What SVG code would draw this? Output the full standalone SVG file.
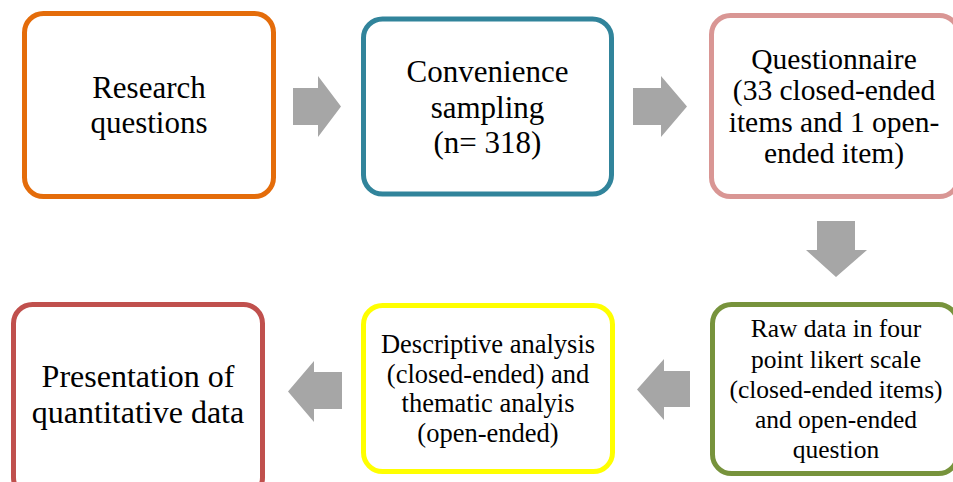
<svg xmlns="http://www.w3.org/2000/svg" width="953" height="482" viewBox="0 0 953 482">
<style>
.box{fill:#fff;stroke-width:5}
.t{font-family:"Liberation Serif","Times New Roman",serif;fill:#000;text-anchor:middle}
.arr{fill:#A6A6A6}
</style>
<rect width="953" height="482" fill="#fff"/>
<g id="connectors">
<polygon class="arr" points="293,88 318,88 318,76 341,106.5 318,137 318,125 293,125"/>
<polygon class="arr" points="633,88 661,88 661,76 687,106.5 661,137 661,125 633,125"/>
<polygon class="arr" points="817,221 855,221 855,250 867,250 836,277 806,250 817,250"/>
<polygon class="arr" points="690,371 690,407 664,407 664,420 637,389.5 664,359 664,371"/>
<polygon class="arr" points="342,372 342,409 314,409 314,422 288,391.5 314,361 314,372"/>
</g>
<g id="n1">
<rect class="box" x="24.5" y="13.5" width="249" height="183" rx="19" stroke="#E46C0A"/>
<text class="t" font-size="31" x="149"><tspan x="149" y="98">Research</tspan><tspan x="149" y="133">questions</tspan></text>
</g>
<g id="n2">
<rect class="box" x="363.5" y="19" width="248" height="175" rx="19" stroke="#31849B"/>
<text class="t" font-size="31"><tspan x="487.5" y="82">Convenience</tspan><tspan x="487.5" y="118">sampling</tspan><tspan x="487.5" y="153">(n= 318)</tspan></text>
</g>
<g id="n3">
<rect class="box" x="711.5" y="15.5" width="247" height="181" rx="19" stroke="#D99694"/>
<text class="t" font-size="29.5"><tspan x="834" y="69">Questionnaire</tspan><tspan x="834" y="100">(33 closed-ended</tspan><tspan x="834" y="132">items and 1 open-</tspan><tspan x="834" y="163">ended item)</tspan></text>
</g>
<g id="n4">
<rect class="box" x="712.5" y="304.5" width="245" height="169" rx="19" stroke="#77933C"/>
<text class="t" font-size="25.5"><tspan x="836" y="337">Raw data in four</tspan><tspan x="836" y="368">point likert scale</tspan><tspan x="836" y="398">(closed-ended items)</tspan><tspan x="836" y="428">and open-ended</tspan><tspan x="836" y="458">question</tspan></text>
</g>
<g id="n5">
<rect class="box" x="363.5" y="305.5" width="249" height="166" rx="19" stroke="#FFFF00"/>
<text class="t" font-size="26.5"><tspan x="488" y="353">Descriptive analysis</tspan><tspan x="488" y="383">(closed-ended) and</tspan><tspan x="488" y="412">thematic analyis</tspan><tspan x="488" y="442">(open-ended)</tspan></text>
</g>
<g id="n6">
<rect class="box" x="13.5" y="304.5" width="249" height="192" rx="19" stroke="#C0504D"/>
<text class="t" font-size="32"><tspan x="138" y="387">Presentation of</tspan><tspan x="138" y="423">quantitative data</tspan></text>
</g>
</svg>
